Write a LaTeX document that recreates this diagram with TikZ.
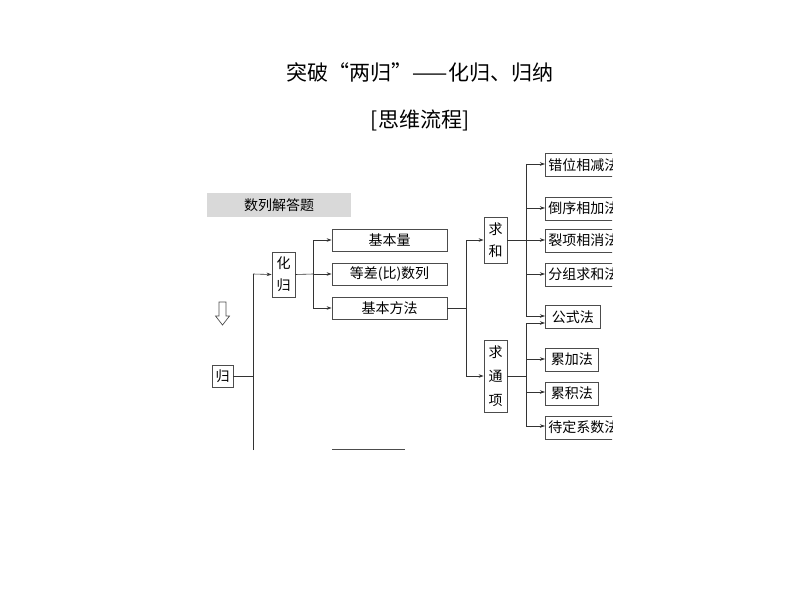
\documentclass[tikz,border=0pt]{standalone}
\usepackage{fontspec}
\setmainfont{Noto Sans CJK SC}
\usetikzlibrary{arrows.meta}
\begin{document}
\begin{tikzpicture}[x=1pt,y=-1pt,
  bx/.style={draw=black!70,line width=0.8pt,inner sep=0pt,font=\fontsize{14}{16}\selectfont},
  ln/.style={line width=0.6pt,black!80},
  ar/.style={ln,-{Stealth[length=5pt,width=3.5pt]}}]
\useasboundingbox (0,0) rectangle (794,596);
\node[font=\fontsize{21}{24}\selectfont] (title) at (420,72) {突破“两归”——化归、归纳};
\node[font=\fontsize{21}{24}\selectfont] (flow) at (420,120) {[思维流程]};
\begin{scope}
\clip (0,0) rectangle (612,596);
\node[fill=black!15,minimum width=144pt,minimum height=24pt,font=\fontsize{14}{16}\selectfont] (q) at (279,205) {数列解答题};
\node[bx,minimum width=23pt,minimum height=45pt,align=center,font=\fontsize{14}{22}\selectfont] (hg) at (283.5,274.5) {化\\归};
\node[bx,minimum width=21pt,minimum height=22pt] (g) at (222.5,376) {归};
\draw[line width=0.7pt,black!70] (219,302)--(226,302)--(226,316)--(229.5,316)--(222.5,325)--(215.5,316)--(219,316)--cycle;
\node[bx,minimum width=115pt,minimum height=22pt] (b1) at (389.5,240) {基本量};
\node[bx,minimum width=115pt,minimum height=22pt] (b2) at (389.5,274) {等差(比)数列};
\node[bx,minimum width=115pt,minimum height=22pt] (b3) at (389.5,308) {基本方法};
\node[bx,minimum width=23pt,minimum height=46pt,align=center,font=\fontsize{14}{22}\selectfont] (qh) at (495.5,240) {求\\和};
\node[bx,minimum width=23pt,minimum height=72pt,align=center,font=\fontsize{14}{24}\selectfont] (qt) at (495.5,376) {求\\通\\项};
\tikzset{rb/.style={bx,anchor=west,minimum height=23pt,inner xsep=3pt}}
\node[rb] (r1) at (545,165) {错位相减法};
\node[rb] (r2) at (545,208.5) {倒序相加法};
\node[rb] (r3) at (545,240.5) {裂项相消法};
\node[rb] (r4) at (545,274.5) {分组求和法};
\node[rb,minimum width=55pt] (r5) at (545,317) {公式法};
\node[rb,minimum width=53pt] (r6) at (545,359.5) {累加法};
\node[rb,minimum width=53pt] (r7) at (545,393.5) {累积法};
\node[rb] (r8) at (545,427.5) {待定系数法};
\coordinate (ga) at (253,376);
\draw[ln] (g.east)--(ga);
\draw[ln] (253,450)--(253,274);
\draw[ar] (253,274)--(hg.west);
\draw[ln] (hg.east)--(313,274);
\draw[ln] (313,240)--(313,308);
\draw[ar] (313,240)--(b1.west);
\draw[ar] (313,274)--(b2.west);
\draw[ar] (313,308)--(b3.west);
\draw[ln,black!70] (332,449)--(405,449);
\draw[ln] (b3.east)--(466,308);
\draw[ln] (466,240)--(466,376);
\draw[ar] (466,240)--(qh.west);
\draw[ar] (466,376)--(qt.west);
\draw[ln] (qh.east)--(526,240);
\draw[ln] (526,164)--(526,316);
\draw[ar] (526,164)--(r1.west|-0,164);
\draw[ar] (526,208)--(r2.west|-0,208);
\draw[ar] (526,240)--(r3.west|-0,240);
\draw[ar] (526,274)--(r4.west|-0,274);
\draw[ar] (526,316)--(r5.west|-0,316);
\draw[ln] (qt.east)--(526,376);
\draw[ln] (526,323)--(526,426);
\draw[ar] (526,323)--(r5.west|-0,323);
\draw[ar] (526,359)--(r6.west|-0,359);
\draw[ar] (526,392)--(r7.west|-0,392);
\draw[ar] (526,426)--(r8.west|-0,426);
\end{scope}
\end{tikzpicture}
\end{document}
